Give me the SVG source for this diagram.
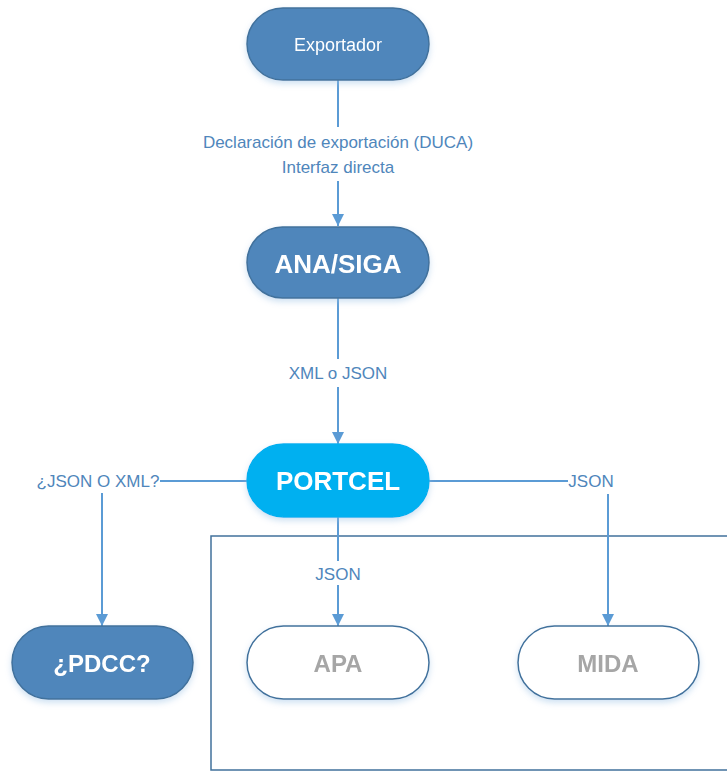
<svg xmlns="http://www.w3.org/2000/svg" width="727" height="772" viewBox="0 0 727 772">
<defs>
<marker id="arr" viewBox="0 0 10 10" refX="10" refY="5" markerWidth="6" markerHeight="6" orient="auto" markerUnits="strokeWidth">
<path d="M0,0 L10,5 L0,10 z" fill="#5B9BD5"/>
</marker>
<filter id="sh" x="-20%" y="-20%" width="140%" height="150%">
<feGaussianBlur in="SourceAlpha" stdDeviation="3"/>
<feOffset dx="0" dy="3" result="b"/>
<feFlood flood-color="#9DC3E6" flood-opacity="0.5"/>
<feComposite in2="b" operator="in"/>
<feMerge><feMergeNode/><feMergeNode in="SourceGraphic"/></feMerge>
</filter>
<style>
.dark{fill:#4F86BB;stroke:#41719C;stroke-width:1.5}
.cyan{fill:#00B0F0;stroke:#00B0F0;stroke-width:1.5}
.white{fill:#FFFFFF;stroke:#41719C;stroke-width:1.5}
.t{font-family:"Liberation Sans",Arial,sans-serif;text-anchor:middle}
.wt{fill:#FFFFFF}
.bt{font-weight:bold;font-size:26px}
.gt{fill:#A6A6A6;font-weight:bold;font-size:24px}
.lbl{fill:#4F86BB;font-size:17px}
.ln{stroke:#5B9BD5;stroke-width:2;fill:none}
</style>
</defs>
<rect x="0" y="0" width="727" height="772" fill="#FFFFFF"/>
<g id="frame">
<polyline points="730,536 211,536 211,770 730,770" fill="none" stroke="#41719C" stroke-width="1.5"/>
</g>
<g id="connectors">
<line class="ln" x1="338" y1="80" x2="338" y2="127"/>
<line class="ln" x1="338" y1="181" x2="338" y2="226" marker-end="url(#arr)"/>
<line class="ln" x1="338" y1="298" x2="338" y2="359"/>
<line class="ln" x1="338" y1="387" x2="338" y2="444" marker-end="url(#arr)"/>
<line class="ln" x1="247" y1="481" x2="160" y2="481"/>
<line class="ln" x1="102" y1="493" x2="102" y2="626" marker-end="url(#arr)"/>
<line class="ln" x1="429" y1="481" x2="568" y2="481"/>
<line class="ln" x1="608" y1="494" x2="608" y2="626" marker-end="url(#arr)"/>
<line class="ln" x1="338" y1="517" x2="338" y2="561"/>
<line class="ln" x1="338" y1="585" x2="338" y2="626" marker-end="url(#arr)"/>
<text class="t lbl" x="338" y="148">Declaración de exportación (DUCA)</text>
<text class="t lbl" x="338" y="173">Interfaz directa</text>
<text class="t lbl" x="338" y="379">XML o JSON</text>
<text class="t lbl" x="98" y="487">¿JSON O XML?</text>
<text class="t lbl" x="591" y="487">JSON</text>
<text class="t lbl" x="338" y="580">JSON</text>
</g>
<g id="exportador" filter="url(#sh)">
<rect class="dark" x="247" y="8" width="182" height="72" rx="36"/>
<text class="t wt" x="338" y="51" font-size="18">Exportador</text>
</g>
<g id="anasiga" filter="url(#sh)">
<rect class="dark" x="247" y="227" width="182" height="71" rx="35.5"/>
<text class="t wt bt" x="338" y="273">ANA/SIGA</text>
</g>
<g id="portcel" filter="url(#sh)">
<rect class="cyan" x="247" y="444" width="182" height="73" rx="36.5"/>
<text class="t wt bt" x="338" y="490">PORTCEL</text>
</g>
<g id="pdcc" filter="url(#sh)">
<rect class="dark" x="12" y="626" width="181" height="73" rx="36.5"/>
<text class="t wt" x="102" y="672" font-weight="bold" font-size="24">¿PDCC?</text>
</g>
<g id="apa" filter="url(#sh)">
<rect class="white" x="247" y="626" width="182" height="73" rx="36.5"/>
<text class="t gt" x="338" y="672">APA</text>
</g>
<g id="mida" filter="url(#sh)">
<rect class="white" x="518" y="626" width="181" height="73" rx="36.5"/>
<text class="t gt" x="608" y="672">MIDA</text>
</g>
</svg>
